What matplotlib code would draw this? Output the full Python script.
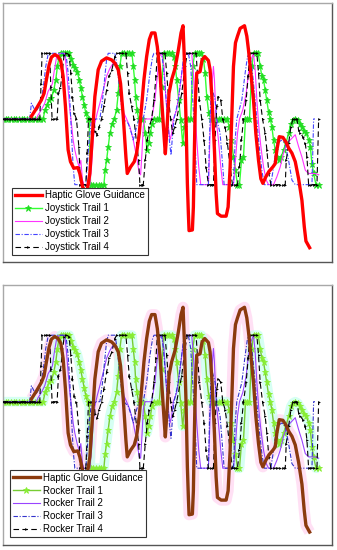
import matplotlib
matplotlib.use("Agg")
import matplotlib.pyplot as plt

plt.rcParams['font.family'] = ['Liberation Sans', 'DejaVu Sans']

# ---- Guidance signal (time, value) ----
guide_t = [8.5, 10.0, 11.5, 12.3, 13.0, 13.8, 14.5, 15.5, 16.5, 17.3, 18.0, 18.7, 19.5, 20.2, 21.2, 22.4,
           23.0, 23.8, 24.6, 25.3, 26.0, 26.8, 27.5, 28.5, 29.5, 31.0, 32.5, 33.5, 34.5, 35.2, 36.0, 36.8,
           37.2, 38.2, 39.3, 40.0, 40.8, 41.5, 42.2, 43.0, 43.8, 44.5, 45.5, 46.2, 47.0, 47.7, 48.3, 48.6,
           49.0, 49.7, 50.5, 51.5, 52.5, 53.3, 53.9, 54.3, 54.8, 55.2, 55.5, 55.7, 56.7, 57.0, 57.3, 57.6,
           58.0, 59.0, 59.6, 60.4, 61.5, 62.0, 62.6, 63.3, 63.8, 64.2, 65.3, 66.8, 67.4, 68.0, 68.5, 69.0,
           69.6, 70.2, 71.0, 72.3, 73.0, 73.5, 74.2, 75.0, 75.7, 76.5, 77.2, 77.8, 78.7, 79.6, 80.8, 81.5,
           82.0, 82.7, 83.8, 84.7, 85.6, 86.5, 87.5, 88.5, 89.5, 90.2, 90.7, 91.8]
guide_v = [0.04, 0.16, 0.29, 0.39, 0.60, 0.82, 0.94, 0.98, 0.95, 0.88, 0.65, 0.19, -0.47, -0.65, -0.75, -0.74,
           -0.83, -1.03, -1.11, -1.06, -0.83, -0.22, 0.34, 0.75, 0.88, 0.93, 0.90, 0.85, 0.75, 0.54, 0.04, -0.58,
           -0.83, -0.73, -0.65, -0.52, -0.22, 0.19, 0.60, 0.95, 1.21, 1.31, 1.31, 1.10, 0.70, 0.14, -0.32, -0.53,
           -0.22, 0.39, 0.60, 0.77, 1.05, 1.31, 1.42, 0.90, -0.02, -0.98, -1.44, -1.70, -1.69, -1.34, -0.47, 0.29,
           0.70, 0.72, 0.90, 0.95, 0.89, 0.75, 0.29, -0.47, -1.13, -1.44, -1.48, -1.48, -1.34, -0.73, 0.04, 0.80,
           1.16, 1.26, 1.38, 1.42, 1.26, 1.05, 0.70, 0.29, -0.22, -0.63, -0.91, -0.98, -0.88, -0.80, -0.73, -0.68,
           -0.47, -0.27, -0.28, -0.35, -0.45, -0.52, -0.65, -0.91, -1.24, -1.64, -1.86, -1.96]

# ---- Trail 1 ----
trail1_t = [0.0, 0.8, 1.6, 2.4, 3.2, 4.0, 4.8, 5.6, 6.4, 7.2, 8.0, 8.8, 9.6, 10.4, 11.2, 12.0,
            12.6, 13.2, 13.8, 14.5, 15.2, 15.8, 16.3, 16.8, 17.4, 18.0, 18.6, 19.2, 19.8,
            20.4, 21.0, 21.6, 22.2, 22.8, 23.3, 23.8, 24.3, 24.8, 25.3, 25.8,
            26.2, 27.0, 27.8, 28.6, 29.4, 30.2, 30.6, 31.0, 31.5, 32.0, 32.7, 33.3, 34.0, 34.5, 35.0,
            35.5, 36.2, 37.0, 37.8, 38.6, 39.0, 39.4, 39.7, 40.1, 40.6, 41.2, 42.0, 42.6, 43.1, 43.6,
            44.1, 44.6, 45.2, 46.0, 46.8, 47.5, 48.2, 49.0, 49.8, 50.6, 51.1, 51.6, 52.0, 52.6, 53.2,
            53.8, 54.3, 54.8, 55.5, 56.2, 56.8, 57.4, 58.0, 58.7, 59.4, 60.0, 60.5, 61.0, 61.6, 62.2,
            63.0, 63.8, 64.6, 65.4, 66.2, 67.0, 67.8, 68.4, 69.0, 69.6, 70.2, 70.8, 71.4, 72.0, 72.6,
            73.2, 73.8, 74.5, 75.0, 75.7, 76.4, 77.0, 77.5, 78.0, 78.5, 79.0, 79.5, 80.0, 80.5, 81.0,
            81.5, 82.0, 82.5, 83.3, 84.0, 84.7, 85.5, 86.2, 86.8, 87.5, 88.2, 88.8, 89.5, 90.2, 90.8,
            91.5, 92.0, 92.5, 93.0, 93.7, 94.5]
trail1_v = [0, 0, 0, 0, 0, 0, 0, 0, 0, 0, 0, 0, 0, 0, 0, 0,
            0.14, 0.21, 0.29, 0.32, 0.44, 0.60, 0.80, 0.96, 1, 1, 1, 1, 1,
            0.91, 0.82, 0.77, 0.72, 0.60, 0.47, 0.34, 0.21, 0.09, 0, 0,
            -1, -1, -1, -1, -1, -1, -0.78, -0.63, -0.42, -0.22, -0.07, 0, 0.14, 0.39, 0.80,
            1, 1, 1, 1, 1, 0.80, 0.60, 0.34, 0.14, 0, 0, 0, -0.22, -0.47, -0.37,
            -0.22, -0.07, 0, 0, 0, 0.49, 1, 1, 1, 1, 0.95, 0.80, 0.60, 0.29, -0.02,
            -0.37, -0.12, 0, 0, 0, 0.80, 1, 1, 1, 1, 0.92, 0.70, 0.34, 0.09, 0,
            0, 0, 0, 0, 0, 0, -0.12, -0.32, -0.58, -0.78, -1, -1, -0.63, -0.58, 0,
            0, 0, 0.80, 1, 1, 1, 0.80, 0.65, 0.60, 0.44, 0.29, 0.11, 0, -0.12, -0.32,
            -0.47, -0.58, -0.63, -0.58, -0.47, -0.37, -0.22, -0.07, -0.02, 0, -0.02, -0.07, -0.12, -0.19, -0.22,
            -0.32, -0.42, -0.68, -0.83, -1, -1]

# ---- Trail 2 ----
trail2_t = [0.0, 10.0, 10.5, 11.5, 12.5, 13.5, 14.2, 14.8, 15.3, 16.0, 16.7, 17.5, 18.5, 19.0, 19.5, 20.0,
            20.5, 21.0, 21.5, 22.2, 22.8, 23.3, 23.8, 24.2, 26.0, 26.5, 27.0, 27.5, 28.2, 29.0, 30.0,
            31.0, 32.0, 33.0, 34.0, 34.8, 35.5, 36.2, 37.0, 38.0, 39.0, 40.0, 40.8, 41.2, 41.6, 42.0,
            42.5, 44.5, 45.5, 46.2, 46.8, 47.5, 48.2, 48.8, 49.5, 50.0, 50.5, 51.0, 52.0, 53.0, 53.8,
            54.5, 55.5, 56.5, 57.0, 57.5, 58.0, 58.6, 59.2, 61.5, 62.0, 62.5, 63.0, 63.3, 63.8, 64.5,
            65.2, 65.8, 69.0, 69.6, 70.2, 70.8, 71.8, 72.8, 73.5, 74.2, 75.0, 75.5, 76.0, 76.6, 77.2,
            78.0, 78.8, 79.5, 81.0, 82.0, 83.0, 84.0, 85.0, 86.0, 87.5, 88.5, 89.5, 90.5, 91.5, 93.5, 94.5]
trail2_v = [0, 0, 0.06, 0.14, 0.24, 0.42, 0.48, 0.54, 0.72, 0.93, 0.99, 1, 1, 0.75, 0.44, 0.14,
            -0.07, -0.32, -0.47, -0.63, -0.73, -0.63, -0.93, -1, -1, -0.73, -0.32, -0.07, 0.09, 0.24, 0.44,
            0.65, 0.77, 0.85, 0.80, 0.65, 0.34, 0.09, 0, -0.12, -0.32, -0.58, -0.83, -0.85, -0.52, -0.12,
            0, 0, 0.29, 0.65, 0.95, 1, 0.80, 0.29, -0.12, -0.32, -0.22, 0, 0.14, 0.49, 0.80,
            0.98, 1, 1, 0.70, 0.14, -0.32, -0.73, -1, -1, -0.22, 0.49, 0.80, 0.60, 0, -0.32,
            -0.73, -1, -1, -0.63, -0.22, 0, 0.14, 0.39, 0.70, 0.90, 1, 0.75, 0.29, -0.12, -0.42,
            -0.73, -0.93, -1, -1, -0.88, -0.73, -0.52, -0.37, -0.32, -0.24, -0.42, -0.58, -0.78, -0.83, -0.83, -0.85]

# ---- Trail 3 ----
trail3_t = [0.0, 8.0, 8.5, 9.0, 9.8, 10.8, 11.5, 12.2, 12.8, 13.5, 14.0, 18.0, 19.0, 19.5, 20.0, 20.5,
            21.0, 21.5, 24.8, 25.2, 25.8, 26.5, 29.0, 29.8, 30.5, 31.0, 31.5, 33.5, 34.2, 34.8, 35.5,
            36.2, 37.5, 38.5, 39.0, 40.0, 40.8, 42.0, 43.0, 44.0, 44.8, 45.2, 47.5, 48.0, 48.7, 49.3,
            49.8, 50.3, 50.8, 51.2, 52.5, 53.5, 54.2, 55.5, 56.2, 56.8, 57.5, 58.0, 61.5, 61.8, 62.2,
            62.7, 63.5, 64.0, 65.0, 65.8, 66.2, 69.0, 69.5, 70.0, 71.5, 72.5, 73.2, 73.8, 74.5, 75.5,
            76.5, 77.5, 78.2, 80.2, 81.0, 82.0, 83.5, 84.5, 85.5, 86.5, 87.5, 92.5, 93.0, 93.4]
trail3_v = [0, 0, 0.24, 0.19, 0.11, 0.19, 0.29, 0.54, 0.80, 0.98, 1, 1, 0.93, 0.70, 0.29, -0.22,
            -0.73, -1, -1, -0.73, -0.32, 0, 0, 0.29, 0.65, 0.90, 1, 1, 0.80, 0.49, 0.19,
            0, -0.07, -0.22, -0.32, -0.12, 0, 0, 0.29, 0.70, 0.95, 1, 1, 0.80, 0.39, 0,
            -0.32, -0.55, -0.22, 0, 0.29, 0.70, 1, 1, 0.80, 0.29, -0.32, -1, -1, -0.32, 0.29,
            0.44, 0.29, 0, -0.22, -0.73, -1, -1, -0.32, 0, 0.29, 0.70, 0.95, 1, 0.80, 0.29,
            -0.32, -0.78, -1, -1, -0.73, -0.37, -0.32, -0.37, -0.63, -0.93, -1, -1, 0, 0]

# ---- Trail 4 ----
trail4_t = [0.0, 0.5, 1.0, 1.5, 2.0, 2.5, 3.0, 3.5, 4.0, 4.5, 5.0, 5.5, 6.0, 6.5, 7.0, 7.5, 8.0, 8.5,
            9.0, 9.5, 10.0, 10.5, 11.0, 11.4, 11.7, 12.5, 13.2, 14.0, 14.3, 14.7, 15.4, 16.2, 16.6, 17.2,
            17.8, 18.3, 19.0, 19.8, 20.3, 20.8, 21.3, 22.0, 22.7, 23.2, 24.0, 24.8, 25.2, 25.6, 26.4,
            27.2, 27.6, 28.2, 28.8, 29.5, 30.2, 31.0, 31.8, 32.6, 33.5, 34.0, 34.9, 35.8, 36.8, 37.3,
            37.8, 38.5, 39.2, 40.0, 40.6, 41.0, 41.5, 42.0, 42.6, 43.2, 43.8, 44.5, 45.2, 45.8, 46.2,
            47.0, 47.8, 48.5, 49.0, 49.6, 50.2, 50.8, 51.4, 52.0, 53.5, 54.5, 55.2, 56.0, 56.9, 57.8,
            58.2, 58.8, 59.5, 60.2, 60.8, 61.5, 62.2, 63.0, 63.5, 64.0, 64.5, 65.2, 65.8, 66.5, 67.2,
            68.0, 68.7, 69.5, 70.2, 70.8, 71.4, 72.0, 72.8, 73.4, 73.8, 74.2, 75.1, 76.0, 76.5, 77.0,
            77.7, 78.5, 79.0, 79.6, 80.2, 81.1, 82.0, 82.9, 83.7, 84.5, 84.8, 85.5, 86.2, 86.8, 87.4,
            88.0, 88.5, 89.0, 89.8, 90.5, 91.0, 91.5, 92.3, 93.2, 94.0, 94.5]
trail4_v = [0, 0, 0, 0, 0, 0, 0, 0, 0, 0, 0, 0, 0, 0, 0, 0, 0, 0,
            0, 0, 0, 0, 0, 0.54, 1, 1, 1, 1, 0.49, 0, 0, 0, 0.39, 0.47,
            0.75, 0.98, 1, 0.98, 0.70, 0.34, 0.09, 0, -0.42, -1, -1, -1, -0.52, 0, 0,
            0, -0.19, -0.24, -0.12, 0, 0.19, 0.44, 0.65, 0.75, 0.95, 1, 1, 1, 1, 0.70,
            0.39, 0.19, 0, -0.37, -0.63, -1, -1, -1, -0.63, -0.32, -0.12, 0, 0.29, 0.65, 1,
            1, 1, 1, 0.70, 0.29, 0, -0.22, -0.12, 0, 0.39, 0.80, 1, 1, 1, 1,
            0.70, 0.29, 0, -0.32, -0.73, -1, -1, -1, -0.32, 0.19, 0.34, 0.29, 0, -0.12, -0.37,
            -0.73, -1, -1, -1, -0.73, -0.32, 0, 0.29, 0.65, 0.95, 1, 1, 1, 0.70, 0.29,
            0, -0.22, -0.47, -0.83, -1, -1, -1, -1, -1, -1, -0.63, -0.37, -0.12, 0, 0,
            0, -0.17, -0.22, -0.27, -0.37, -0.58, -1, -1, -1, -1, 0]

top_labels = ['Haptic Glove Guidance', 'Joystick Trail 1', 'Joystick Trail 2',
              'Joystick Trail 3', 'Joystick Trail 4']
bottom_labels = ['Haptic Glove Guidance', 'Rocker Trail 1', 'Rocker Trail 2',
                 'Rocker Trail 3', 'Rocker Trail 4']

fig = plt.figure(figsize=(3.37, 5.5), dpi=100)
ax_top = fig.add_axes([3/337, 1-262/550, 329/337, 259/550])
ax_bot = fig.add_axes([3/337, 5/550, 329/337, 260/550])


def panel(ax, labels, c_guide, c1, c1m, c2, c3, ylim, legend_anchor, glow):
    if glow:
        ax.plot(guide_t, guide_v, color='#ffd9f2', lw=8, alpha=0.8, zorder=0.5,
                solid_capstyle='butt')
        ax.plot(trail1_t, trail1_v, color='#ccfff0', lw=7, alpha=0.8, zorder=0.6,
                solid_capstyle='butt')
    h1, = ax.plot(trail1_t, trail1_v, color=c1, lw=1.0, marker='*', ms=5,
                  mfc=c1m, mec=c1m, mew=0.6, zorder=2, label=labels[1])
    h2, = ax.plot(trail2_t, trail2_v, color=c2, lw=0.8, zorder=3, label=labels[2])
    h3, = ax.plot(trail3_t, trail3_v, color=c3, lw=0.8, ls=(0, (4, 1.5, 1, 1.5)),
                  zorder=3, label=labels[3])
    h4, = ax.plot(trail4_t, trail4_v, color='black', lw=0.8, ls=(0, (5, 3)),
                  marker='>', ms=2, mew=0, zorder=4, label=labels[4])
    h0, = ax.plot(guide_t, guide_v, color=c_guide, lw=2.4, zorder=5, label=labels[0])
    ax.set_xlim(0, 98.5)
    ax.set_ylim(*ylim)
    ax.set_xticks([])
    ax.set_yticks([])
    ax.spines['top'].set_color('#a8a8a8')
    ax.spines['left'].set_color('#a8a8a8')
    ax.spines['right'].set_color('#555555')
    ax.spines['bottom'].set_color('#555555')
    for s in ax.spines.values():
        s.set_linewidth(1.0)
    leg = ax.legend(handles=[h0, h1, h2, h3, h4], loc='lower left',
                    bbox_to_anchor=legend_anchor, borderaxespad=0,
                    fontsize=7.0, handlelength=2.8, handletextpad=0.3,
                    labelspacing=0.3, borderpad=0.3, fancybox=False,
                    framealpha=1, edgecolor='#333333')
    leg.get_frame().set_linewidth(0.8)
    leg.set_zorder(10)


panel(ax_top, top_labels, '#ff0000', '#33ff33', '#22dd22', '#ff33ff', '#4444ff',
      (-2.178, 1.766), (0.027, 0.027), False)
panel(ax_bot, bottom_labels, '#8b3a0e', '#77cc33', '#88ee33', '#9944ff', '#3333cc',
      (-2.155, 1.755), (0.021, 0.03), True)

fig.savefig('out.png', dpi=100)
